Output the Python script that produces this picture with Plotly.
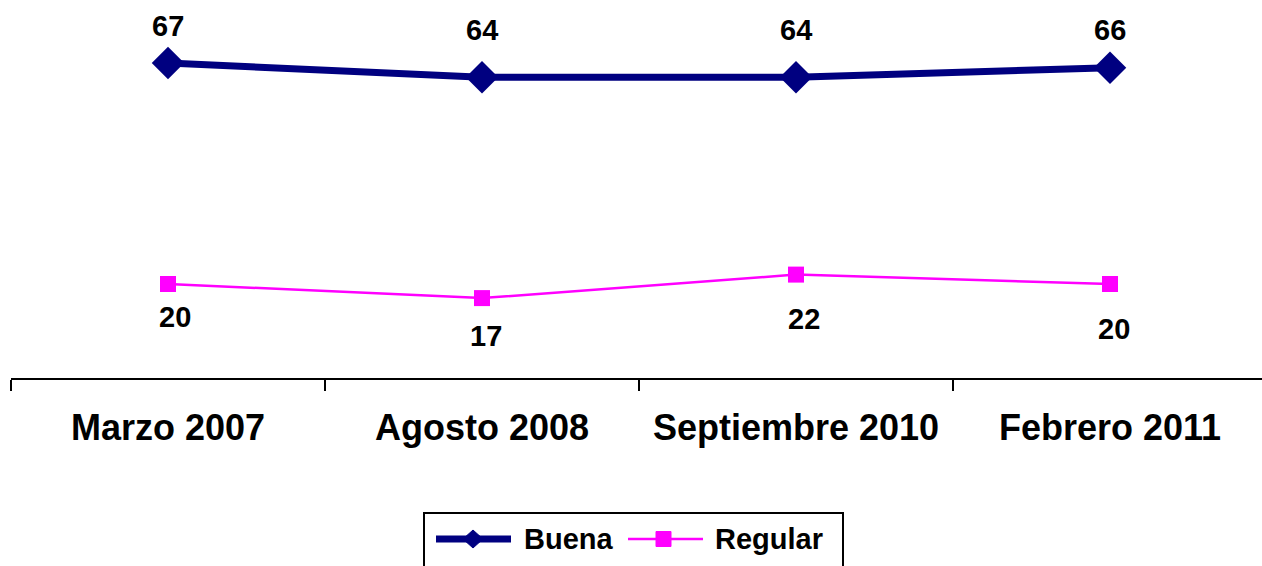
import plotly.graph_objects as go

# ---- data ----
categories = ["Marzo 2007", "Agosto 2008", "Septiembre 2010", "Febrero 2011"]
buena = [67, 64, 64, 66]
regular = [20, 17, 22, 20]
series_names = ["Buena", "Regular"]

# ---- layout geometry ----
W, H = 1262, 566
ML, MR, MT, MB = 11, 0, 2, 188
PW = W - ML - MR
PH = H - MT - MB


def px(x):
    return (x - ML) / PW


def py(y):
    return (H - MB - y) / PH


NAVY = "#000080"
MAG = "#FF00FF"
FONT = "Liberation Sans, Arial, sans-serif"

fig = go.Figure()
fig.add_trace(go.Scatter(
    x=categories, y=buena, mode="lines+markers", name=series_names[0],
    line=dict(color=NAVY, width=7),
    marker=dict(symbol="diamond", size=25, color=NAVY),
    showlegend=False, cliponaxis=False,
))
fig.add_trace(go.Scatter(
    x=categories, y=regular, mode="lines+markers", name=series_names[1],
    line=dict(color=MAG, width=2.5),
    marker=dict(symbol="square", size=16, color=MAG),
    showlegend=False, cliponaxis=False,
))

label_font = dict(family=FONT, size=29, color="black", weight="bold")
annotations = []
buena_yshift = [37, 47, 47, 38]
for c, v, s in zip(categories, buena, buena_yshift):
    annotations.append(dict(x=c, y=v, xref="x", yref="y", text=str(v), showarrow=False,
                            yshift=s, font=label_font))
reg_yshift = [-33, -38, -44, -45]
reg_xshift = [7, 4, 8, 4]
for c, v, s, xs in zip(categories, regular, reg_yshift, reg_xshift):
    annotations.append(dict(x=c, y=v, xref="x", yref="y", text=str(v), showarrow=False,
                            yshift=s, xshift=xs, font=label_font))

# ---- custom legend ----
LY = 539
leg_font = dict(family=FONT, size=29, color="black", weight="bold")
annotations.append(dict(x=px(522), y=py(LY), xref="paper", yref="paper", text=series_names[0],
                        xanchor="left", yanchor="middle", showarrow=False, font=leg_font))
annotations.append(dict(x=px(713), y=py(LY), xref="paper", yref="paper", text=series_names[1],
                        xanchor="left", yanchor="middle", showarrow=False, font=leg_font))

shapes = [
    dict(type="rect", xref="paper", yref="paper", x0=px(424), x1=px(843), y0=py(513), y1=py(590),
         line=dict(color="black", width=2), fillcolor="rgba(0,0,0,0)"),
    dict(type="line", xref="paper", yref="paper", x0=px(436), x1=px(511), y0=py(LY), y1=py(LY),
         line=dict(color=NAVY, width=7)),
    dict(type="path", xref="paper", yref="paper",
         path="M {},{} L {},{} L {},{} L {},{} Z".format(
             px(463), py(LY), px(473), py(LY - 9), px(483), py(LY), px(473), py(LY + 9)),
         fillcolor=NAVY, line=dict(color=NAVY, width=1)),
    dict(type="line", xref="paper", yref="paper", x0=px(628), x1=px(703), y0=py(LY), y1=py(LY),
         line=dict(color=MAG, width=2.5)),
    dict(type="rect", xref="paper", yref="paper", x0=px(656), x1=px(671), y0=py(LY - 7.5), y1=py(LY + 7.5),
         fillcolor=MAG, line=dict(color=MAG, width=1)),
]

fig.update_layout(
    width=W, height=H,
    margin=dict(l=ML, r=MR, t=MT, b=MB, pad=0),
    paper_bgcolor="white", plot_bgcolor="white",
    showlegend=False,
    annotations=annotations,
    shapes=shapes,
    xaxis=dict(
        type="category", range=[-0.5, 3.484],
        showline=True, linecolor="black", linewidth=2,
        ticks="outside", ticklen=11, tickwidth=2, tickcolor="black",
        tickson="boundaries", showgrid=False, zeroline=False,
        tickfont=dict(family=FONT, size=36, color="black", weight="bold"),
        ticklabelstandoff=17,
    ),
    yaxis=dict(range=[0, 80], visible=False, showgrid=False, zeroline=False),
)

fig.write_html(
    "out.html",
    config={"displayModeBar": False},
    post_script="document.body.style.margin='0';document.body.style.overflow='hidden';",
)
